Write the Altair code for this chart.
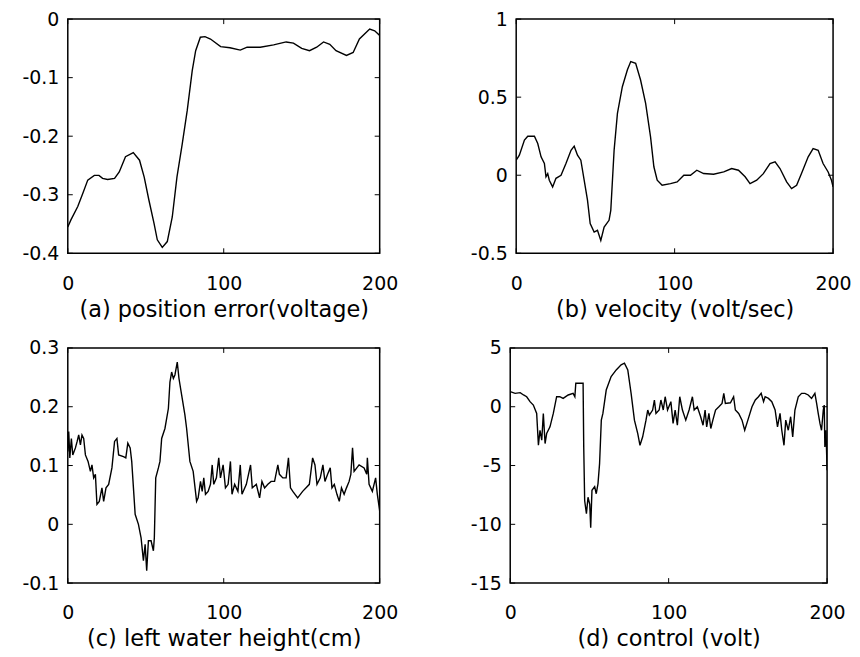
import altair as alt
import pandas as pd

X_TICKS = [0, 100, 200]

# (a) position error (voltage)
a_t = [0, 2, 6.4, 9.6, 12.8, 17, 20, 22.3, 25.5, 30, 33, 37, 42, 46, 49, 52, 55.3, 57.4, 60.6, 63.8,
       67, 70, 73.4, 76.6, 79.8, 82, 85, 88, 91.5, 98, 104, 110.6, 115, 123.4, 132, 140, 144.7, 150,
       155, 159.6, 164, 168, 172, 178.7, 183, 187, 193.6, 196.8, 200]
a_v = [-0.355, -0.343, -0.32, -0.298, -0.275, -0.267, -0.267, -0.272, -0.274, -0.272, -0.261, -0.235,
       -0.228, -0.241, -0.27, -0.309, -0.349, -0.377, -0.39, -0.38, -0.338, -0.27, -0.213, -0.156,
       -0.088, -0.054, -0.031, -0.03, -0.034, -0.047, -0.049, -0.053, -0.048, -0.048, -0.044, -0.039,
       -0.041, -0.05, -0.054, -0.048, -0.039, -0.043, -0.054, -0.062, -0.057, -0.034, -0.017, -0.02,
       -0.028]
a_yticks = [-0.4, -0.3, -0.2, -0.1, 0]

# (b) velocity (volt/sec)
b_t = [0, 2, 5.2, 7.3, 11.5, 13.6, 15.7, 17.8, 18.8, 19.9, 20.9, 23, 25.1, 28.3, 31.4, 34.6, 36.6,
       38.7, 40.8, 42.9, 45, 46.7, 49.2, 51.3, 53.4, 55.5, 58.6, 59.7, 61.8, 63.9, 67, 70.2, 72.3,
       75.4, 78.5, 81.7, 84.8, 86.9, 89, 92.1, 97.4, 101.6, 105.8, 110, 114, 118.3, 124.6, 131, 136,
       140.3, 144.5, 147.6, 151.8, 156, 160.2, 163.4, 166.5, 170.7, 173.8, 177, 180, 184.3, 187.4,
       190.6, 193.7, 196.9, 199, 200]
b_v = [0.096, 0.128, 0.225, 0.25, 0.25, 0.203, 0.118, 0.075, -0.01, 0.01, -0.032, -0.075, -0.02, 0,
       0.075, 0.16, 0.186, 0.128, 0.096, -0.032, -0.16, -0.31, -0.364, -0.353, -0.418, -0.332,
       -0.289, -0.225, 0.16, 0.396, 0.567, 0.675, 0.728, 0.717, 0.61, 0.46, 0.246, 0.054, -0.032,
       -0.064, -0.054, -0.043, 0, 0, 0.032, 0.011, 0.006, 0.021, 0.043, 0.032, -0.01, -0.054, -0.032,
       0.01, 0.075, 0.086, 0.043, -0.043, -0.086, -0.064, 0.01, 0.118, 0.171, 0.16, 0.075, 0.021,
       -0.032, -0.075]
b_yticks = [-0.5, 0, 0.5, 1]

# (c) left water height (cm)
c_t = [0, 0.6, 1.3, 2.3, 3.2, 4.9, 6, 7, 8.1, 9.1,
       10.2, 11.3, 13, 14.5, 15.5, 16.6, 17.7, 18.7, 20.2, 21.9,
       23, 24.5, 26.2, 28.3, 30, 31.5, 32.6, 35.7, 37.2, 38.5,
       40, 41, 43.2, 45.3, 47, 48.5, 49.6, 50.6, 51.7, 53.4,
       54.9, 55.5, 56.4, 58.1, 59.1, 60.2, 62.3, 64.5, 65.5, 66.6,
       67.7, 68.7, 70.2, 71.3, 73, 75.1, 76.2, 78.3, 80.4, 82.6,
       83.6, 85.1, 86.2, 87.2, 88.3, 90, 91.5, 92.6, 93.6, 95.3,
       96.8, 97.9, 99.6, 101.1, 102.8, 104.3, 105.3, 107, 109.1, 110.6,
       111.7, 114.5, 117.2, 118.3, 120.9, 123, 124.5, 126.2, 128.3, 130.4,
       132.6, 134.7, 135.7, 137.9, 140, 141.5, 142.8, 144.3, 147.4, 150.6,
       154.9, 157, 158.5, 159.8, 161.9, 163.6, 164.9, 166.6, 168.3, 169.4,
       170.9, 172.6, 174.1, 175.5, 177.2, 178.7, 180.4, 181.5, 182.6, 183.6,
       186.8, 190, 191.7, 192.1, 193.2, 195.3, 197.4, 198.5, 200]
c_v = [0.124, 0.158, 0.113, 0.146, 0.118, 0.13, 0.141, 0.152, 0.135, 0.152,
       0.146, 0.118, 0.107, 0.09, 0.101, 0.079, 0.085, 0.034, 0.039, 0.062,
       0.039, 0.062, 0.068, 0.096, 0.141, 0.146, 0.118, 0.115, 0.113, 0.138,
       0.13, 0.107, 0.017, 0.0, -0.023, -0.062, -0.034, -0.079, -0.028, -0.028,
       -0.045, -0.023, 0.079, 0.096, 0.107, 0.146, 0.163, 0.197, 0.242, 0.259,
       0.248, 0.254, 0.276, 0.248, 0.22, 0.186, 0.163, 0.107, 0.09, 0.039,
       0.045, 0.073, 0.056, 0.079, 0.051, 0.056, 0.068, 0.101, 0.068, 0.079,
       0.113, 0.079, 0.101, 0.062, 0.068, 0.107, 0.051, 0.068, 0.056, 0.101,
       0.051, 0.068, 0.101, 0.062, 0.068, 0.045, 0.073, 0.062, 0.068, 0.073,
       0.073, 0.101, 0.085, 0.079, 0.079, 0.113, 0.062, 0.056, 0.045, 0.056,
       0.068, 0.113, 0.101, 0.068, 0.079, 0.101, 0.073, 0.085, 0.096, 0.062,
       0.068, 0.051, 0.039, 0.062, 0.051, 0.062, 0.073, 0.085, 0.13, 0.09,
       0.101, 0.096, 0.085, 0.113, 0.068, 0.056, 0.079, 0.051, 0.023]
c_yticks = [-0.1, 0, 0.1, 0.2, 0.3]

# (d) control (volt)
d_t = [0, 3.1, 6.3, 8.4, 10.4, 12.5, 14.6, 16.7, 17.8, 18.8,
       19.9, 20.9, 22, 23, 25.1, 27.2, 29.3, 31.3, 33.4, 36.6,
       39.7, 40.8, 41.4, 46, 46.4, 47, 48.1, 49.1, 50.2, 50.8,
       51.6, 53.3, 54.3, 55.4, 56.4, 57.5, 58.5, 60.6, 63.7, 66.9,
       70, 72.1, 74.2, 76.3, 78.4, 80.5, 81.9, 83.6, 85.7, 86.8,
       87.8, 89.9, 91, 92, 94, 95.1, 96.6, 97.8, 99.3, 101.4,
       102.8, 104.1, 105.5, 107, 108.7, 110.8, 112.9, 115, 116.1, 118.1,
       120.2, 121.7, 123, 124, 125.4, 126.6, 127.9, 129.6, 131.7, 133.7,
       134.8, 135.8, 139, 141, 142.1, 144.2, 146.3, 148, 150, 152.6,
       154.7, 156.7, 158.4, 159.9, 160.9, 163, 165.1, 167.2, 168.7, 170.3,
       171.4, 172.8, 173.9, 175.5, 177, 178.3, 179.7, 181.8, 183.9, 186,
       188.1, 190.2, 192.3, 193.4, 194.4, 195.5, 196.5, 197.6, 198.2, 198.6,
       199.3, 200]
d_v = [1.28, 1.14, 1.2, 1.0, 0.85, 0.43, 0.14, -0.57, -3.28, -2.0,
       -2.85, -0.57, -3.13, -2.28, -1.71, -0.57, 0.85, 0.85, 0.71, 1.0,
       1.14, 0.85, 2.0, 2.0, -3.4, -8.0, -9.1, -7.7, -8.3, -10.3,
       -7.1, -6.8, -7.4, -6.55, -4.84, -1.14, -0.57, 1.42, 2.56, 3.13,
       3.56, 3.7, 3.13, 1.14, -1.14, -2.28, -3.28, -2.56, -1.14, -0.28,
       -0.71, -0.28, 0.57, -0.57, -0.28, 0.57, -0.28, 0.85, -0.28, 0.43,
       -1.42, -0.28, -1.57, 0.85, -0.28, -1.14, -0.28, 0.85, -0.28, 0,
       -0.85, -1.57, -0.28, -1.71, -0.57, -1.85, -1.14, -0.28, 0, 0.28,
       1.14, 0.28, 0.34, 0.85, -0.28, -0.57, -1.14, -2.0, -1.14, 0,
       0.57, 0.85, 1.14, 0.43, 0.85, 0.71, 0.43, -0.28, -1.71, -0.57,
       -2.0, -3.28, -1.14, -2.0, -0.85, -2.56, -0.28, 0.85, 1.14, 1.14,
       1.0, 0.71, 1.14, 0.28, -0.57, -1.42, -2.0, -0.28, 0.14, -3.42,
       -2.0, -5.41]
d_yticks = [-15, -10, -5, 0, 5]

LABEL_EXPR = "datum.value < 0 ? '-' + format(-datum.value, '~g') : format(datum.value, '~g')"
FONT = "DejaVu Sans"
TICK = 5


def panel(ts, vs, yticks, title, width, height):
    df = pd.DataFrame({"t": ts, "v": vs})
    xsc = alt.Scale(domain=[0, 200], nice=False, zero=False)
    ysc = alt.Scale(domain=[yticks[0], yticks[-1]], nice=False, zero=False)
    xax = alt.Axis(values=X_TICKS, title=title, labelExpr=LABEL_EXPR,
                   labelFlush=False, labelPadding=21, titlePadding=5)
    yax = alt.Axis(values=yticks, title=None, labelExpr=LABEL_EXPR,
                   labelFlush=False, labelPadding=9)
    line = alt.Chart(df).mark_line(color="black", strokeWidth=1.4, clip=True).encode(
        x=alt.X("t:Q", scale=xsc, axis=xax),
        y=alt.Y("v:Q", scale=ysc, axis=yax),
    )
    xt = pd.DataFrame({"t": X_TICKS})
    yt = pd.DataFrame({"v": yticks})
    rule = dict(color="black", strokeWidth=1)
    bottom = alt.Chart(xt).mark_rule(**rule).encode(
        x=alt.X("t:Q", scale=xsc, axis=xax), y=alt.value(height), y2=alt.value(height - TICK))
    top = alt.Chart(xt).mark_rule(**rule).encode(
        x=alt.X("t:Q", scale=xsc, axis=xax), y=alt.value(0), y2=alt.value(TICK))
    left = alt.Chart(yt).mark_rule(**rule).encode(
        y=alt.Y("v:Q", scale=ysc, axis=yax), x=alt.value(0), x2=alt.value(TICK))
    right = alt.Chart(yt).mark_rule(**rule).encode(
        y=alt.Y("v:Q", scale=ysc, axis=yax), x=alt.value(width), x2=alt.value(width - TICK))
    return alt.layer(line, bottom, top, left, right).properties(width=width, height=height)


pa = panel(a_t, a_v, a_yticks, "(a) position error(voltage)", 313, 235)
pb = panel(b_t, b_v, b_yticks, "(b) velocity (volt/sec)", 318, 235)
pc = panel(c_t, c_v, c_yticks, "(c) left water height(cm)", 313, 236)
pd_ = panel(d_t, d_v, d_yticks, "(d) control (volt)", 318, 236)

chart = alt.vconcat(
    alt.hconcat(pa, pb, spacing=71),
    alt.hconcat(pc, pd_, spacing=71),
    spacing=16,
).properties(
    padding={"left": 13, "top": 0, "right": 0, "bottom": 2},
    background="white",
).configure_view(
    stroke="black", strokeWidth=1.5
).configure_axis(
    domain=False, ticks=False, tickSize=0, grid=False,
    labelFont=FONT, labelFontSize=19, labelColor="black",
    titleFont=FONT, titleFontSize=22.5, titleFontWeight="normal", titleColor="black",
)

chart.save("out.html", embed_options={"renderer": "svg", "actions": False})
